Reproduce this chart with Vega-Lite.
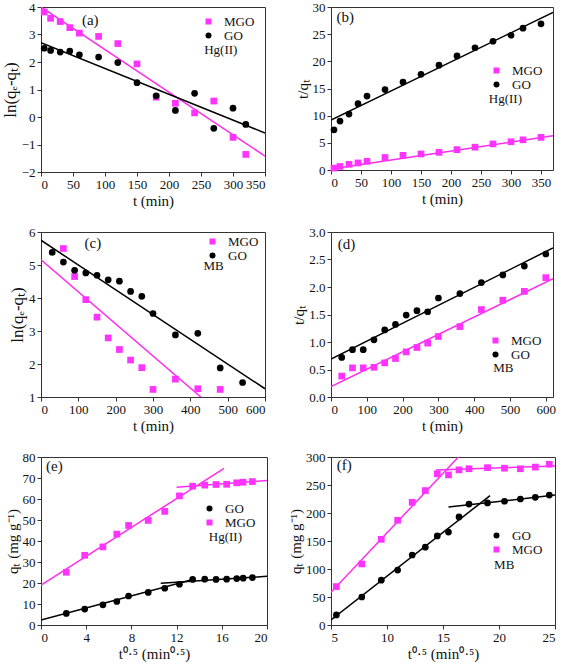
{
  "$schema": "https://vega.github.io/schema/vega-lite/v6.json",
  "padding": {"left": 0, "top": 0, "right": 4, "bottom": 0},
  "background": "white",
  "columns": 2,
  "spacing": {"row": 16, "column": 20},
  "resolve": {
    "scale": {"x": "independent", "y": "independent", "color": "independent", "shape": "independent"}
  },
  "config": {
    "view": {"stroke": "#333", "strokeWidth": 1},
    "style": {"guide-label": {"font": "Liberation Serif"}, "guide-title": {"font": "Liberation Serif"}},
    "text": {"font": "Liberation Serif", "fontSize": 13, "color": "#111"},
    "axis": {
      "labelFont": "Liberation Serif", "titleFont": "Liberation Serif",
      "labelFontSize": 13, "titleFontSize": 15, "titleFontWeight": "normal",
      "labelColor": "#111", "titleColor": "#111",
      "domainColor": "#333", "tickColor": "#333", "grid": false,
      "tickSize": 4, "labelPadding": 2, "titlePadding": 2
    },
    "legend": {
      "labelFont": "Liberation Serif", "labelFontSize": 13, "labelColor": "#111",
      "rowPadding": 0, "symbolSize": 36, "labelOffset": 9
    }
  },
  "datasets": {
    "a_pts": [
      {"s": "MGO", "x": 5, "y": 3.82}, {"s": "MGO", "x": 15, "y": 3.59}, {"s": "MGO", "x": 30, "y": 3.47}, {"s": "MGO", "x": 45, "y": 3.25}, {"s": "MGO", "x": 60, "y": 3.05}, {"s": "MGO", "x": 90, "y": 2.93}, {"s": "MGO", "x": 120, "y": 2.67}, {"s": "MGO", "x": 150, "y": 1.93}, {"s": "MGO", "x": 180, "y": 0.72}, {"s": "MGO", "x": 210, "y": 0.5}, {"s": "MGO", "x": 240, "y": 0.15}, {"s": "MGO", "x": 270, "y": 0.58}, {"s": "MGO", "x": 300, "y": -0.74}, {"s": "MGO", "x": 320, "y": -1.36},
      {"s": "GO", "x": 5, "y": 2.5}, {"s": "GO", "x": 15, "y": 2.42}, {"s": "GO", "x": 30, "y": 2.36}, {"s": "GO", "x": 45, "y": 2.4}, {"s": "GO", "x": 60, "y": 2.26}, {"s": "GO", "x": 90, "y": 2.18}, {"s": "GO", "x": 120, "y": 1.98}, {"s": "GO", "x": 150, "y": 1.25}, {"s": "GO", "x": 180, "y": 0.77}, {"s": "GO", "x": 210, "y": 0.24}, {"s": "GO", "x": 240, "y": 0.86}, {"s": "GO", "x": 270, "y": -0.41}, {"s": "GO", "x": 300, "y": 0.32}, {"s": "GO", "x": 320, "y": -0.27}
    ],
    "a_lines": [
      {"s": "MGO", "g": "MGO1", "x": 0, "y": 4.0}, {"s": "MGO", "g": "MGO1", "x": 350, "y": -1.42},
      {"s": "GO", "g": "GO1", "x": 0, "y": 2.7}, {"s": "GO", "g": "GO1", "x": 350, "y": -0.58}
    ],
    "b_pts": [
      {"s": "GO", "x": 5, "y": 7.4}, {"s": "GO", "x": 15, "y": 9.0}, {"s": "GO", "x": 30, "y": 10.3}, {"s": "GO", "x": 45, "y": 12.2}, {"s": "GO", "x": 60, "y": 13.6}, {"s": "GO", "x": 90, "y": 14.8}, {"s": "GO", "x": 120, "y": 16.2}, {"s": "GO", "x": 150, "y": 17.6}, {"s": "GO", "x": 180, "y": 19.3}, {"s": "GO", "x": 210, "y": 21.0}, {"s": "GO", "x": 240, "y": 22.5}, {"s": "GO", "x": 270, "y": 23.7}, {"s": "GO", "x": 300, "y": 24.8}, {"s": "GO", "x": 320, "y": 26.1}, {"s": "GO", "x": 350, "y": 26.9},
      {"s": "MGO", "x": 5, "y": 0.35}, {"s": "MGO", "x": 15, "y": 0.65}, {"s": "MGO", "x": 30, "y": 1.05}, {"s": "MGO", "x": 45, "y": 1.3}, {"s": "MGO", "x": 60, "y": 1.6}, {"s": "MGO", "x": 90, "y": 2.3}, {"s": "MGO", "x": 120, "y": 2.7}, {"s": "MGO", "x": 150, "y": 2.95}, {"s": "MGO", "x": 180, "y": 3.25}, {"s": "MGO", "x": 210, "y": 3.75}, {"s": "MGO", "x": 240, "y": 4.2}, {"s": "MGO", "x": 270, "y": 4.8}, {"s": "MGO", "x": 300, "y": 5.2}, {"s": "MGO", "x": 320, "y": 5.55}, {"s": "MGO", "x": 350, "y": 6.0}
    ],
    "b_lines": [
      {"s": "GO", "g": "GO1", "x": 0, "y": 9.2}, {"s": "GO", "g": "GO1", "x": 370, "y": 29.0},
      {"s": "MGO", "g": "MGO1", "x": 0, "y": 0.2}, {"s": "MGO", "g": "MGO1", "x": 370, "y": 6.3}
    ],
    "c_pts": [
      {"s": "MGO", "x": 60, "y": 5.5}, {"s": "MGO", "x": 90, "y": 4.65}, {"s": "MGO", "x": 120, "y": 3.95}, {"s": "MGO", "x": 150, "y": 3.42}, {"s": "MGO", "x": 180, "y": 2.79}, {"s": "MGO", "x": 210, "y": 2.44}, {"s": "MGO", "x": 240, "y": 2.12}, {"s": "MGO", "x": 270, "y": 1.89}, {"s": "MGO", "x": 300, "y": 1.23}, {"s": "MGO", "x": 360, "y": 1.54}, {"s": "MGO", "x": 420, "y": 1.25}, {"s": "MGO", "x": 480, "y": 1.23},
      {"s": "GO", "x": 30, "y": 5.38}, {"s": "GO", "x": 60, "y": 5.09}, {"s": "GO", "x": 90, "y": 4.84}, {"s": "GO", "x": 120, "y": 4.76}, {"s": "GO", "x": 150, "y": 4.69}, {"s": "GO", "x": 180, "y": 4.55}, {"s": "GO", "x": 210, "y": 4.51}, {"s": "GO", "x": 240, "y": 4.2}, {"s": "GO", "x": 270, "y": 4.05}, {"s": "GO", "x": 300, "y": 3.53}, {"s": "GO", "x": 360, "y": 2.88}, {"s": "GO", "x": 420, "y": 2.93}, {"s": "GO", "x": 480, "y": 1.88}, {"s": "GO", "x": 540, "y": 1.44}
    ],
    "c_lines": [
      {"s": "GO", "g": "GO1", "x": 0, "y": 5.75}, {"s": "GO", "g": "GO1", "x": 600, "y": 1.25},
      {"s": "MGO", "g": "MGO1", "x": 0, "y": 5.16}, {"s": "MGO", "g": "MGO1", "x": 428, "y": 1.0}
    ],
    "d_pts": [
      {"s": "GO", "x": 30, "y": 0.72}, {"s": "GO", "x": 60, "y": 0.86}, {"s": "GO", "x": 90, "y": 0.86}, {"s": "GO", "x": 120, "y": 1.04}, {"s": "GO", "x": 150, "y": 1.22}, {"s": "GO", "x": 180, "y": 1.32}, {"s": "GO", "x": 210, "y": 1.49}, {"s": "GO", "x": 240, "y": 1.57}, {"s": "GO", "x": 270, "y": 1.55}, {"s": "GO", "x": 300, "y": 1.8}, {"s": "GO", "x": 360, "y": 1.88}, {"s": "GO", "x": 420, "y": 2.08}, {"s": "GO", "x": 480, "y": 2.22}, {"s": "GO", "x": 540, "y": 2.38}, {"s": "GO", "x": 600, "y": 2.6},
      {"s": "MGO", "x": 30, "y": 0.38}, {"s": "MGO", "x": 60, "y": 0.53}, {"s": "MGO", "x": 90, "y": 0.53}, {"s": "MGO", "x": 120, "y": 0.54}, {"s": "MGO", "x": 150, "y": 0.62}, {"s": "MGO", "x": 180, "y": 0.7}, {"s": "MGO", "x": 210, "y": 0.82}, {"s": "MGO", "x": 240, "y": 0.9}, {"s": "MGO", "x": 270, "y": 0.98}, {"s": "MGO", "x": 300, "y": 1.1}, {"s": "MGO", "x": 360, "y": 1.28}, {"s": "MGO", "x": 420, "y": 1.59}, {"s": "MGO", "x": 480, "y": 1.76}, {"s": "MGO", "x": 540, "y": 1.92}, {"s": "MGO", "x": 600, "y": 2.17}
    ],
    "d_lines": [
      {"s": "GO", "g": "GO1", "x": 0, "y": 0.69}, {"s": "GO", "g": "GO1", "x": 620, "y": 2.71},
      {"s": "MGO", "g": "MGO1", "x": 0, "y": 0.19}, {"s": "MGO", "g": "MGO1", "x": 620, "y": 2.15}
    ],
    "e_pts": [
      {"s": "MGO", "x": 2.24, "y": 25.1}, {"s": "MGO", "x": 3.87, "y": 33.2}, {"s": "MGO", "x": 5.48, "y": 37.2}, {"s": "MGO", "x": 6.71, "y": 43.3}, {"s": "MGO", "x": 7.75, "y": 47.4}, {"s": "MGO", "x": 9.49, "y": 49.8}, {"s": "MGO", "x": 10.95, "y": 54.1}, {"s": "MGO", "x": 12.25, "y": 61.5}, {"s": "MGO", "x": 13.42, "y": 66.1}, {"s": "MGO", "x": 14.49, "y": 66.6}, {"s": "MGO", "x": 15.49, "y": 66.9}, {"s": "MGO", "x": 16.43, "y": 67.0}, {"s": "MGO", "x": 17.32, "y": 67.7}, {"s": "MGO", "x": 17.89, "y": 68.0}, {"s": "MGO", "x": 18.71, "y": 68.3},
      {"s": "GO", "x": 2.24, "y": 5.5}, {"s": "GO", "x": 3.87, "y": 7.6}, {"s": "GO", "x": 5.48, "y": 9.6}, {"s": "GO", "x": 6.71, "y": 11.2}, {"s": "GO", "x": 7.75, "y": 13.8}, {"s": "GO", "x": 9.49, "y": 15.5}, {"s": "GO", "x": 10.95, "y": 17.5}, {"s": "GO", "x": 12.25, "y": 19.4}, {"s": "GO", "x": 13.42, "y": 21.7}, {"s": "GO", "x": 14.49, "y": 21.8}, {"s": "GO", "x": 15.49, "y": 21.7}, {"s": "GO", "x": 16.43, "y": 21.8}, {"s": "GO", "x": 17.32, "y": 22.1}, {"s": "GO", "x": 17.89, "y": 22.3}, {"s": "GO", "x": 18.71, "y": 22.6}
    ],
    "e_lines": [
      {"s": "MGO", "g": "MGO1", "x": 0, "y": 19.0}, {"s": "MGO", "g": "MGO1", "x": 16.2, "y": 74.6},
      {"s": "MGO", "g": "MGO2", "x": 12.0, "y": 65.6}, {"s": "MGO", "g": "MGO2", "x": 20, "y": 68.8},
      {"s": "GO", "g": "GO1", "x": 0, "y": 2.4}, {"s": "GO", "g": "GO1", "x": 13.6, "y": 21.9},
      {"s": "GO", "g": "GO2", "x": 10.6, "y": 19.9}, {"s": "GO", "g": "GO2", "x": 20, "y": 23.2}
    ],
    "f_pts": [
      {"s": "MGO", "x": 5.48, "y": 68.6}, {"s": "MGO", "x": 7.75, "y": 109}, {"s": "MGO", "x": 9.49, "y": 153}, {"s": "MGO", "x": 10.95, "y": 187}, {"s": "MGO", "x": 12.25, "y": 219}, {"s": "MGO", "x": 13.42, "y": 240}, {"s": "MGO", "x": 14.49, "y": 270}, {"s": "MGO", "x": 15.49, "y": 268}, {"s": "MGO", "x": 16.43, "y": 277}, {"s": "MGO", "x": 17.32, "y": 279}, {"s": "MGO", "x": 18.97, "y": 281}, {"s": "MGO", "x": 20.49, "y": 280}, {"s": "MGO", "x": 21.91, "y": 279}, {"s": "MGO", "x": 23.24, "y": 282}, {"s": "MGO", "x": 24.49, "y": 287},
      {"s": "GO", "x": 5.48, "y": 17.9}, {"s": "GO", "x": 7.75, "y": 50}, {"s": "GO", "x": 9.49, "y": 80}, {"s": "GO", "x": 10.95, "y": 98}, {"s": "GO", "x": 12.25, "y": 125}, {"s": "GO", "x": 13.42, "y": 139}, {"s": "GO", "x": 14.49, "y": 159}, {"s": "GO", "x": 15.49, "y": 166}, {"s": "GO", "x": 16.43, "y": 193}, {"s": "GO", "x": 17.32, "y": 216}, {"s": "GO", "x": 18.97, "y": 218}, {"s": "GO", "x": 20.49, "y": 221}, {"s": "GO", "x": 21.91, "y": 225}, {"s": "GO", "x": 23.24, "y": 228}, {"s": "GO", "x": 24.49, "y": 232}
    ],
    "f_lines": [
      {"s": "MGO", "g": "MGO1", "x": 5, "y": 58.4}, {"s": "MGO", "g": "MGO1", "x": 16.38, "y": 300},
      {"s": "MGO", "g": "MGO2", "x": 14.36, "y": 276.7}, {"s": "MGO", "g": "MGO2", "x": 25, "y": 283.9},
      {"s": "GO", "g": "GO1", "x": 5, "y": 9}, {"s": "GO", "g": "GO1", "x": 19.2, "y": 231},
      {"s": "GO", "g": "GO2", "x": 15.49, "y": 210.5}, {"s": "GO", "g": "GO2", "x": 25, "y": 232}
    ]
  },
  "concat": [
    {
      "width": 224, "height": 165,
      "layer": [
        {"data": {"name": "a_lines"}, "transform": [{"filter": "datum.s == 'MGO'"}], "mark": {"type": "line", "color": "#ff2bf0", "strokeWidth": 1.5, "clip": true},
         "encoding": {
           "x": {"field": "x", "type": "quantitative", "scale": {"domain": [0, 350], "nice": false}, "axis": {"title": "t (min)", "values": [0, 50, 100, 150, 200, 250, 300, 350], "labelFont": "Liberation Serif"}},
           "y": {"field": "y", "type": "quantitative", "scale": {"domain": [-2, 4], "nice": false}, "axis": {"title": "ln(qₑ-qₜ)", "values": [-2, -1, 0, 1, 2, 3, 4], "titleFontSize": 17, "labelFont": "Liberation Serif"}},
           "detail": {"field": "g"}}},
        {"data": {"name": "a_lines"}, "transform": [{"filter": "datum.s == 'GO'"}], "mark": {"type": "line", "color": "#000000", "strokeWidth": 1.5, "clip": true},
         "encoding": {
           "x": {"field": "x", "type": "quantitative", "scale": {"domain": [0, 350], "nice": false}, "axis": {"title": "t (min)", "values": [0, 50, 100, 150, 200, 250, 300, 350], "labelFont": "Liberation Serif"}},
           "y": {"field": "y", "type": "quantitative", "scale": {"domain": [-2, 4], "nice": false}, "axis": {"title": "ln(qₑ-qₜ)", "values": [-2, -1, 0, 1, 2, 3, 4], "titleFontSize": 17, "labelFont": "Liberation Serif"}},
           "detail": {"field": "g"}}},
        {"data": {"name": "a_pts"}, "mark": {"type": "point", "filled": true, "opacity": 1, "size": 45},
         "encoding": {
           "x": {"field": "x", "type": "quantitative", "scale": {"domain": [0, 350], "nice": false}, "axis": {"title": "t (min)", "values": [0, 50, 100, 150, 200, 250, 300, 350], "labelFont": "Liberation Serif"}},
           "y": {"field": "y", "type": "quantitative", "scale": {"domain": [-2, 4], "nice": false}, "axis": {"title": "ln(qₑ-qₜ)", "values": [-2, -1, 0, 1, 2, 3, 4], "titleFontSize": 17, "labelFont": "Liberation Serif"}},
           "color": {"field": "s", "type": "nominal", "scale": {"domain": ["MGO", "GO"], "range": ["#ff33ff", "#000000"]}, "legend": {"title": null, "orient": "none", "legendX": 161, "legendY": 8, "labelFont": "Liberation Serif"}},
           "shape": {"field": "s", "type": "nominal", "scale": {"domain": ["MGO", "GO"], "range": ["square", "circle"]}, "legend": {"title": null, "orient": "none", "legendX": 161, "legendY": 8, "labelFont": "Liberation Serif"}}
         }},
        {"data": {"values": [{"k": 1}]}, "mark": {"type": "text", "fontSize": 15},
         "encoding": {
           "x": {"datum": 77, "scale": {"domain": [0, 350], "nice": false}, "axis": {"title": "t (min)", "values": [0, 50, 100, 150, 200, 250, 300, 350], "labelFont": "Liberation Serif"}},
           "y": {"datum": 3.54, "scale": {"domain": [-2, 4], "nice": false}, "axis": {"title": "ln(qₑ-qₜ)", "values": [-2, -1, 0, 1, 2, 3, 4], "titleFontSize": 17, "labelFont": "Liberation Serif"}},
           "text": {"value": "(a)"}}},
        {"data": {"values": [{"k": 1}]}, "mark": {"type": "text", "align": "left"},
         "encoding": {
           "x": {"datum": 255, "scale": {"domain": [0, 350], "nice": false}, "axis": {"title": "t (min)", "values": [0, 50, 100, 150, 200, 250, 300, 350], "labelFont": "Liberation Serif"}},
           "y": {"datum": 2.45, "scale": {"domain": [-2, 4], "nice": false}, "axis": {"title": "ln(qₑ-qₜ)", "values": [-2, -1, 0, 1, 2, 3, 4], "titleFontSize": 17, "labelFont": "Liberation Serif"}},
           "text": {"value": "Hg(II)"}}}
      ]
    },
    {
      "width": 222, "height": 163,
      "layer": [
        {"data": {"name": "b_lines"}, "transform": [{"filter": "datum.s == 'MGO'"}], "mark": {"type": "line", "color": "#ff2bf0", "strokeWidth": 1.5, "clip": true},
         "encoding": {
           "x": {"field": "x", "type": "quantitative", "scale": {"domain": [0, 370], "nice": false}, "axis": {"title": "t (min)", "values": [0, 50, 100, 150, 200, 250, 300, 350], "labelFont": "Liberation Serif"}},
           "y": {"field": "y", "type": "quantitative", "scale": {"domain": [0, 30], "nice": false}, "axis": {"title": "t/qₜ", "values": [0, 5, 10, 15, 20, 25, 30], "labelFont": "Liberation Serif"}},
           "detail": {"field": "g"}}},
        {"data": {"name": "b_lines"}, "transform": [{"filter": "datum.s == 'GO'"}], "mark": {"type": "line", "color": "#000000", "strokeWidth": 1.5, "clip": true},
         "encoding": {
           "x": {"field": "x", "type": "quantitative", "scale": {"domain": [0, 370], "nice": false}, "axis": {"title": "t (min)", "values": [0, 50, 100, 150, 200, 250, 300, 350], "labelFont": "Liberation Serif"}},
           "y": {"field": "y", "type": "quantitative", "scale": {"domain": [0, 30], "nice": false}, "axis": {"title": "t/qₜ", "values": [0, 5, 10, 15, 20, 25, 30], "labelFont": "Liberation Serif"}},
           "detail": {"field": "g"}}},
        {"data": {"name": "b_pts"}, "mark": {"type": "point", "filled": true, "opacity": 1, "size": 45},
         "encoding": {
           "x": {"field": "x", "type": "quantitative", "scale": {"domain": [0, 370], "nice": false}, "axis": {"title": "t (min)", "values": [0, 50, 100, 150, 200, 250, 300, 350], "labelFont": "Liberation Serif"}},
           "y": {"field": "y", "type": "quantitative", "scale": {"domain": [0, 30], "nice": false}, "axis": {"title": "t/qₜ", "values": [0, 5, 10, 15, 20, 25, 30], "labelFont": "Liberation Serif"}},
           "color": {"field": "s", "type": "nominal", "scale": {"domain": ["MGO", "GO"], "range": ["#ff33ff", "#000000"]}, "legend": {"title": null, "orient": "none", "legendX": 159, "legendY": 57, "labelFont": "Liberation Serif"}},
           "shape": {"field": "s", "type": "nominal", "scale": {"domain": ["MGO", "GO"], "range": ["square", "circle"]}, "legend": {"title": null, "orient": "none", "legendX": 159, "legendY": 57, "labelFont": "Liberation Serif"}}
         }},
        {"data": {"values": [{"k": 1}]}, "mark": {"type": "text", "fontSize": 15},
         "encoding": {
           "x": {"datum": 23.6, "scale": {"domain": [0, 370], "nice": false}, "axis": {"title": "t (min)", "values": [0, 50, 100, 150, 200, 250, 300, 350], "labelFont": "Liberation Serif"}},
           "y": {"datum": 28.1, "scale": {"domain": [0, 30], "nice": false}, "axis": {"title": "t/qₜ", "values": [0, 5, 10, 15, 20, 25, 30], "labelFont": "Liberation Serif"}},
           "text": {"value": "(b)"}}},
        {"data": {"values": [{"k": 1}]}, "mark": {"type": "text", "align": "left"},
         "encoding": {
           "x": {"datum": 263, "scale": {"domain": [0, 370], "nice": false}, "axis": {"title": "t (min)", "values": [0, 50, 100, 150, 200, 250, 300, 350], "labelFont": "Liberation Serif"}},
           "y": {"datum": 13.1, "scale": {"domain": [0, 30], "nice": false}, "axis": {"title": "t/qₜ", "values": [0, 5, 10, 15, 20, 25, 30], "labelFont": "Liberation Serif"}},
           "text": {"value": "Hg(II)"}}}
      ]
    },
    {
      "width": 224, "height": 165,
      "layer": [
        {"data": {"name": "c_lines"}, "transform": [{"filter": "datum.s == 'MGO'"}], "mark": {"type": "line", "color": "#ff2bf0", "strokeWidth": 1.5, "clip": true},
         "encoding": {
           "x": {"field": "x", "type": "quantitative", "scale": {"domain": [0, 600], "nice": false}, "axis": {"title": "t (min)", "values": [0, 100, 200, 300, 400, 500, 600], "labelFont": "Liberation Serif"}},
           "y": {"field": "y", "type": "quantitative", "scale": {"domain": [1, 6], "nice": false, "zero": false}, "axis": {"title": "ln(qₑ-qₜ)", "values": [1, 2, 3, 4, 5, 6], "titleFontSize": 17, "labelFont": "Liberation Serif"}},
           "detail": {"field": "g"}}},
        {"data": {"name": "c_lines"}, "transform": [{"filter": "datum.s == 'GO'"}], "mark": {"type": "line", "color": "#000000", "strokeWidth": 1.5, "clip": true},
         "encoding": {
           "x": {"field": "x", "type": "quantitative", "scale": {"domain": [0, 600], "nice": false}, "axis": {"title": "t (min)", "values": [0, 100, 200, 300, 400, 500, 600], "labelFont": "Liberation Serif"}},
           "y": {"field": "y", "type": "quantitative", "scale": {"domain": [1, 6], "nice": false, "zero": false}, "axis": {"title": "ln(qₑ-qₜ)", "values": [1, 2, 3, 4, 5, 6], "titleFontSize": 17, "labelFont": "Liberation Serif"}},
           "detail": {"field": "g"}}},
        {"data": {"name": "c_pts"}, "mark": {"type": "point", "filled": true, "opacity": 1, "size": 45},
         "encoding": {
           "x": {"field": "x", "type": "quantitative", "scale": {"domain": [0, 600], "nice": false}, "axis": {"title": "t (min)", "values": [0, 100, 200, 300, 400, 500, 600], "labelFont": "Liberation Serif"}},
           "y": {"field": "y", "type": "quantitative", "scale": {"domain": [1, 6], "nice": false, "zero": false}, "axis": {"title": "ln(qₑ-qₜ)", "values": [1, 2, 3, 4, 5, 6], "titleFontSize": 17, "labelFont": "Liberation Serif"}},
           "color": {"field": "s", "type": "nominal", "scale": {"domain": ["MGO", "GO"], "range": ["#ff33ff", "#000000"]}, "legend": {"title": null, "orient": "none", "legendX": 165, "legendY": 3, "labelFont": "Liberation Serif"}},
           "shape": {"field": "s", "type": "nominal", "scale": {"domain": ["MGO", "GO"], "range": ["square", "circle"]}, "legend": {"title": null, "orient": "none", "legendX": 165, "legendY": 3, "labelFont": "Liberation Serif"}}
         }},
        {"data": {"values": [{"k": 1}]}, "mark": {"type": "text", "fontSize": 15},
         "encoding": {
           "x": {"datum": 139, "scale": {"domain": [0, 600], "nice": false}, "axis": {"title": "t (min)", "values": [0, 100, 200, 300, 400, 500, 600], "labelFont": "Liberation Serif"}},
           "y": {"datum": 5.66, "scale": {"domain": [1, 6], "nice": false, "zero": false}, "axis": {"title": "ln(qₑ-qₜ)", "values": [1, 2, 3, 4, 5, 6], "titleFontSize": 17, "labelFont": "Liberation Serif"}},
           "text": {"value": "(c)"}}},
        {"data": {"values": [{"k": 1}]}, "mark": {"type": "text", "align": "left"},
         "encoding": {
           "x": {"datum": 435, "scale": {"domain": [0, 600], "nice": false}, "axis": {"title": "t (min)", "values": [0, 100, 200, 300, 400, 500, 600], "labelFont": "Liberation Serif"}},
           "y": {"datum": 4.97, "scale": {"domain": [1, 6], "nice": false, "zero": false}, "axis": {"title": "ln(qₑ-qₜ)", "values": [1, 2, 3, 4, 5, 6], "titleFontSize": 17, "labelFont": "Liberation Serif"}},
           "text": {"value": "MB"}}}
      ]
    },
    {
      "width": 222, "height": 165,
      "layer": [
        {"data": {"name": "d_lines"}, "transform": [{"filter": "datum.s == 'MGO'"}], "mark": {"type": "line", "color": "#ff2bf0", "strokeWidth": 1.5, "clip": true},
         "encoding": {
           "x": {"field": "x", "type": "quantitative", "scale": {"domain": [0, 620], "nice": false}, "axis": {"title": "t (min)", "values": [0, 100, 200, 300, 400, 500, 600], "labelFont": "Liberation Serif"}},
           "y": {"field": "y", "type": "quantitative", "scale": {"domain": [0, 3], "nice": false}, "axis": {"title": "t/qₜ", "values": [0, 0.5, 1, 1.5, 2, 2.5, 3], "format": ".1f", "labelFont": "Liberation Serif"}},
           "detail": {"field": "g"}}},
        {"data": {"name": "d_lines"}, "transform": [{"filter": "datum.s == 'GO'"}], "mark": {"type": "line", "color": "#000000", "strokeWidth": 1.5, "clip": true},
         "encoding": {
           "x": {"field": "x", "type": "quantitative", "scale": {"domain": [0, 620], "nice": false}, "axis": {"title": "t (min)", "values": [0, 100, 200, 300, 400, 500, 600], "labelFont": "Liberation Serif"}},
           "y": {"field": "y", "type": "quantitative", "scale": {"domain": [0, 3], "nice": false}, "axis": {"title": "t/qₜ", "values": [0, 0.5, 1, 1.5, 2, 2.5, 3], "format": ".1f", "labelFont": "Liberation Serif"}},
           "detail": {"field": "g"}}},
        {"data": {"name": "d_pts"}, "mark": {"type": "point", "filled": true, "opacity": 1, "size": 45},
         "encoding": {
           "x": {"field": "x", "type": "quantitative", "scale": {"domain": [0, 620], "nice": false}, "axis": {"title": "t (min)", "values": [0, 100, 200, 300, 400, 500, 600], "labelFont": "Liberation Serif"}},
           "y": {"field": "y", "type": "quantitative", "scale": {"domain": [0, 3], "nice": false}, "axis": {"title": "t/qₜ", "values": [0, 0.5, 1, 1.5, 2, 2.5, 3], "format": ".1f", "labelFont": "Liberation Serif"}},
           "color": {"field": "s", "type": "nominal", "scale": {"domain": ["MGO", "GO"], "range": ["#ff33ff", "#000000"]}, "legend": {"title": null, "orient": "none", "legendX": 158, "legendY": 102, "labelFont": "Liberation Serif"}},
           "shape": {"field": "s", "type": "nominal", "scale": {"domain": ["MGO", "GO"], "range": ["square", "circle"]}, "legend": {"title": null, "orient": "none", "legendX": 158, "legendY": 102, "labelFont": "Liberation Serif"}}
         }},
        {"data": {"values": [{"k": 1}]}, "mark": {"type": "text", "fontSize": 15},
         "encoding": {
           "x": {"datum": 43, "scale": {"domain": [0, 620], "nice": false}, "axis": {"title": "t (min)", "values": [0, 100, 200, 300, 400, 500, 600], "labelFont": "Liberation Serif"}},
           "y": {"datum": 2.79, "scale": {"domain": [0, 3], "nice": false}, "axis": {"title": "t/qₜ", "values": [0, 0.5, 1, 1.5, 2, 2.5, 3], "format": ".1f", "labelFont": "Liberation Serif"}},
           "text": {"value": "(d)"}}},
        {"data": {"values": [{"k": 1}]}, "mark": {"type": "text", "align": "left"},
         "encoding": {
           "x": {"datum": 453, "scale": {"domain": [0, 620], "nice": false}, "axis": {"title": "t (min)", "values": [0, 100, 200, 300, 400, 500, 600], "labelFont": "Liberation Serif"}},
           "y": {"datum": 0.53, "scale": {"domain": [0, 3], "nice": false}, "axis": {"title": "t/qₜ", "values": [0, 0.5, 1, 1.5, 2, 2.5, 3], "format": ".1f", "labelFont": "Liberation Serif"}},
           "text": {"value": "MB"}}}
      ]
    },
    {
      "width": 226, "height": 168,
      "layer": [
        {"data": {"name": "e_lines"}, "transform": [{"filter": "datum.s == 'MGO'"}], "mark": {"type": "line", "color": "#ff2bf0", "strokeWidth": 1.5, "clip": true},
         "encoding": {
           "x": {"field": "x", "type": "quantitative", "scale": {"domain": [0, 20], "nice": false}, "axis": {"title": "t⁰·⁵ (min⁰·⁵)", "values": [0, 4, 8, 12, 16, 20], "labelFont": "Liberation Serif"}},
           "y": {"field": "y", "type": "quantitative", "scale": {"domain": [0, 80], "nice": false}, "axis": {"title": "qₜ (mg g⁻¹)", "values": [0, 10, 20, 30, 40, 50, 60, 70, 80], "labelFont": "Liberation Serif"}},
           "detail": {"field": "g"}}},
        {"data": {"name": "e_lines"}, "transform": [{"filter": "datum.s == 'GO'"}], "mark": {"type": "line", "color": "#000000", "strokeWidth": 1.5, "clip": true},
         "encoding": {
           "x": {"field": "x", "type": "quantitative", "scale": {"domain": [0, 20], "nice": false}, "axis": {"title": "t⁰·⁵ (min⁰·⁵)", "values": [0, 4, 8, 12, 16, 20], "labelFont": "Liberation Serif"}},
           "y": {"field": "y", "type": "quantitative", "scale": {"domain": [0, 80], "nice": false}, "axis": {"title": "qₜ (mg g⁻¹)", "values": [0, 10, 20, 30, 40, 50, 60, 70, 80], "labelFont": "Liberation Serif"}},
           "detail": {"field": "g"}}},
        {"data": {"name": "e_pts"}, "mark": {"type": "point", "filled": true, "opacity": 1, "size": 45},
         "encoding": {
           "x": {"field": "x", "type": "quantitative", "scale": {"domain": [0, 20], "nice": false}, "axis": {"title": "t⁰·⁵ (min⁰·⁵)", "values": [0, 4, 8, 12, 16, 20], "labelFont": "Liberation Serif"}},
           "y": {"field": "y", "type": "quantitative", "scale": {"domain": [0, 80], "nice": false}, "axis": {"title": "qₜ (mg g⁻¹)", "values": [0, 10, 20, 30, 40, 50, 60, 70, 80], "labelFont": "Liberation Serif"}},
           "color": {"field": "s", "type": "nominal", "scale": {"domain": ["GO", "MGO"], "range": ["#000000", "#ff33ff"]}, "legend": {"title": null, "orient": "none", "legendX": 162, "legendY": 45, "labelFont": "Liberation Serif"}},
           "shape": {"field": "s", "type": "nominal", "scale": {"domain": ["GO", "MGO"], "range": ["circle", "square"]}, "legend": {"title": null, "orient": "none", "legendX": 162, "legendY": 45, "labelFont": "Liberation Serif"}}
         }},
        {"data": {"values": [{"k": 1}]}, "mark": {"type": "text", "fontSize": 15},
         "encoding": {
           "x": {"datum": 1.18, "scale": {"domain": [0, 20], "nice": false}, "axis": {"title": "t⁰·⁵ (min⁰·⁵)", "values": [0, 4, 8, 12, 16, 20], "labelFont": "Liberation Serif"}},
           "y": {"datum": 75.6, "scale": {"domain": [0, 80], "nice": false}, "axis": {"title": "qₜ (mg g⁻¹)", "values": [0, 10, 20, 30, 40, 50, 60, 70, 80], "labelFont": "Liberation Serif"}},
           "text": {"value": "(e)"}}},
        {"data": {"values": [{"k": 1}]}, "mark": {"type": "text", "align": "left"},
         "encoding": {
           "x": {"datum": 14.85, "scale": {"domain": [0, 20], "nice": false}, "axis": {"title": "t⁰·⁵ (min⁰·⁵)", "values": [0, 4, 8, 12, 16, 20], "labelFont": "Liberation Serif"}},
           "y": {"datum": 42.1, "scale": {"domain": [0, 80], "nice": false}, "axis": {"title": "qₜ (mg g⁻¹)", "values": [0, 10, 20, 30, 40, 50, 60, 70, 80], "labelFont": "Liberation Serif"}},
           "text": {"value": "Hg(II)"}}}
      ]
    },
    {
      "width": 224, "height": 168,
      "layer": [
        {"data": {"name": "f_lines"}, "transform": [{"filter": "datum.s == 'MGO'"}], "mark": {"type": "line", "color": "#ff2bf0", "strokeWidth": 1.5, "clip": true},
         "encoding": {
           "x": {"field": "x", "type": "quantitative", "scale": {"domain": [5, 25], "nice": false, "zero": false}, "axis": {"title": "t⁰·⁵ (min⁰·⁵)", "values": [5, 10, 15, 20, 25], "labelFont": "Liberation Serif"}},
           "y": {"field": "y", "type": "quantitative", "scale": {"domain": [0, 300], "nice": false}, "axis": {"title": "qₜ (mg g⁻¹)", "values": [0, 50, 100, 150, 200, 250, 300], "labelFont": "Liberation Serif"}},
           "detail": {"field": "g"}}},
        {"data": {"name": "f_lines"}, "transform": [{"filter": "datum.s == 'GO'"}], "mark": {"type": "line", "color": "#000000", "strokeWidth": 1.5, "clip": true},
         "encoding": {
           "x": {"field": "x", "type": "quantitative", "scale": {"domain": [5, 25], "nice": false, "zero": false}, "axis": {"title": "t⁰·⁵ (min⁰·⁵)", "values": [5, 10, 15, 20, 25], "labelFont": "Liberation Serif"}},
           "y": {"field": "y", "type": "quantitative", "scale": {"domain": [0, 300], "nice": false}, "axis": {"title": "qₜ (mg g⁻¹)", "values": [0, 50, 100, 150, 200, 250, 300], "labelFont": "Liberation Serif"}},
           "detail": {"field": "g"}}},
        {"data": {"name": "f_pts"}, "mark": {"type": "point", "filled": true, "opacity": 1, "size": 45},
         "encoding": {
           "x": {"field": "x", "type": "quantitative", "scale": {"domain": [5, 25], "nice": false, "zero": false}, "axis": {"title": "t⁰·⁵ (min⁰·⁵)", "values": [5, 10, 15, 20, 25], "labelFont": "Liberation Serif"}},
           "y": {"field": "y", "type": "quantitative", "scale": {"domain": [0, 300], "nice": false}, "axis": {"title": "qₜ (mg g⁻¹)", "values": [0, 50, 100, 150, 200, 250, 300], "labelFont": "Liberation Serif"}},
           "color": {"field": "s", "type": "nominal", "scale": {"domain": ["GO", "MGO"], "range": ["#000000", "#ff33ff"]}, "legend": {"title": null, "orient": "none", "legendX": 159, "legendY": 72, "labelFont": "Liberation Serif"}},
           "shape": {"field": "s", "type": "nominal", "scale": {"domain": ["GO", "MGO"], "range": ["circle", "square"]}, "legend": {"title": null, "orient": "none", "legendX": 159, "legendY": 72, "labelFont": "Liberation Serif"}}
         }},
        {"data": {"values": [{"k": 1}]}, "mark": {"type": "text", "fontSize": 15},
         "encoding": {
           "x": {"datum": 6.19, "scale": {"domain": [5, 25], "nice": false, "zero": false}, "axis": {"title": "t⁰·⁵ (min⁰·⁵)", "values": [5, 10, 15, 20, 25], "labelFont": "Liberation Serif"}},
           "y": {"datum": 285, "scale": {"domain": [0, 300], "nice": false}, "axis": {"title": "qₜ (mg g⁻¹)", "values": [0, 50, 100, 150, 200, 250, 300], "labelFont": "Liberation Serif"}},
           "text": {"value": "(f)"}}},
        {"data": {"values": [{"k": 1}]}, "mark": {"type": "text", "align": "left"},
         "encoding": {
           "x": {"datum": 19.56, "scale": {"domain": [5, 25], "nice": false, "zero": false}, "axis": {"title": "t⁰·⁵ (min⁰·⁵)", "values": [5, 10, 15, 20, 25], "labelFont": "Liberation Serif"}},
           "y": {"datum": 107, "scale": {"domain": [0, 300], "nice": false}, "axis": {"title": "qₜ (mg g⁻¹)", "values": [0, 50, 100, 150, 200, 250, 300], "labelFont": "Liberation Serif"}},
           "text": {"value": "MB"}}}
      ]
    }
  ]
}
